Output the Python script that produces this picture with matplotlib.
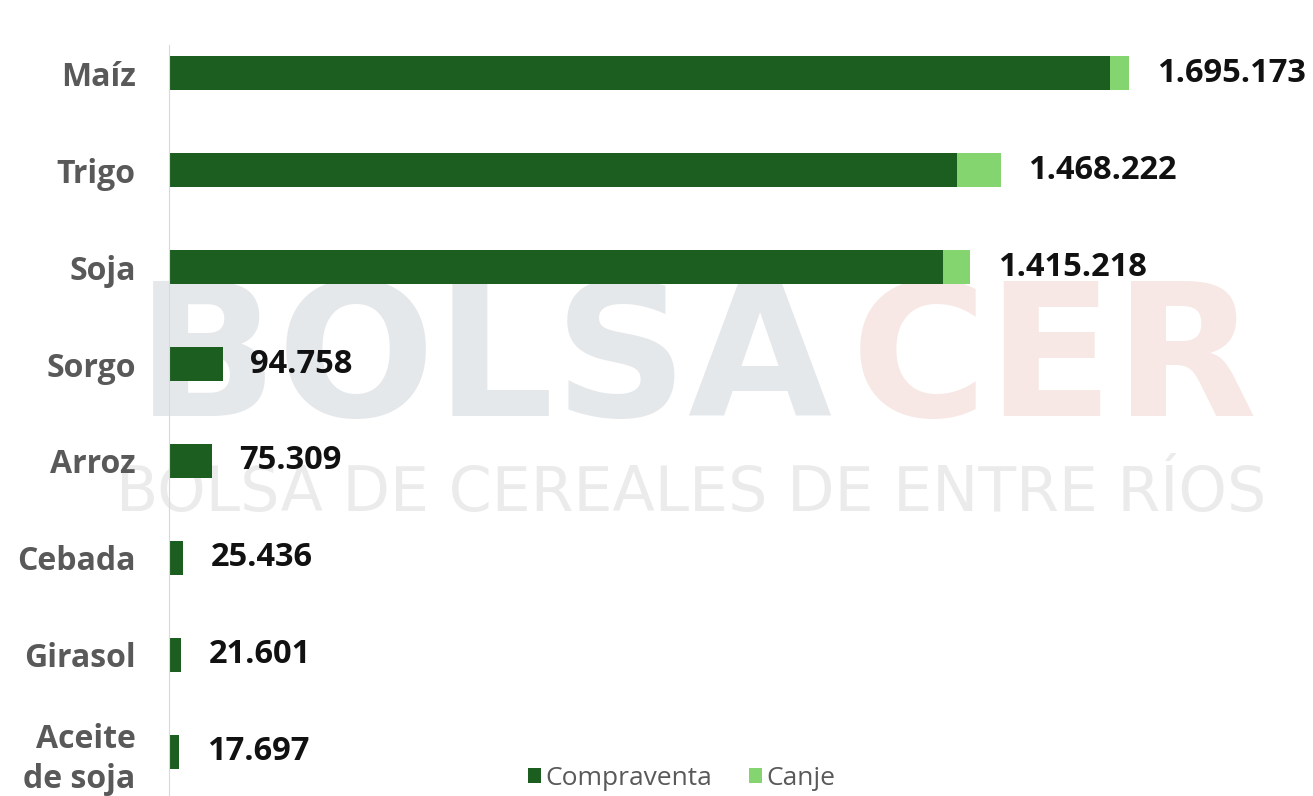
import matplotlib.pyplot as plt
import numpy as np

# datos (toneladas)
granos = ["Maíz", "Trigo", "Soja", "Sorgo", "Arroz", "Cebada", "Girasol", "Aceite\nde soja"]
compraventa = [1661673, 1391522, 1366818, 94758, 75309, 25436, 21601, 17697]
canje = [33500, 76700, 48400, 0, 0, 0, 0, 0]

verde_oscuro = "#1b5e20"
verde_claro = "#84d46f"

plt.rcParams['font.family'] = ['Open Sans', 'DejaVu Sans']

fig = plt.figure(figsize=(13.13, 7.96), dpi=100)
ax = fig.add_axes([169 / 1313, 0, 1 - 169 / 1313, 751 / 796])
ax.patch.set_alpha(0)

# marca de agua
fig.text(484 / 1313, 1 - 416 / 796, "BOLSA", fontsize=134, fontweight="bold",
         family="DejaVu Sans", color="#e5e8ea", ha="center", va="baseline", zorder=-2)
fig.text(1054 / 1313, 1 - 416 / 796, "CER", fontsize=134, fontweight="bold",
         family="DejaVu Sans", color="#f7e8e5", ha="center", va="baseline", zorder=-2)
fig.text(691 / 1313, 1 - 511 / 796, "BOLSA DE CEREALES DE ENTRE RÍOS", fontsize=44.5,
         family="DejaVu Sans", color="#ebebeb", ha="center", va="baseline", zorder=-2)

y = np.arange(len(granos))
ax.barh(y, compraventa, height=0.36, color=verde_oscuro, label="Compraventa")
ax.barh(y, canje, left=compraventa, height=0.36, color=verde_claro, label="Canje")

for i in range(len(granos)):
    total = compraventa[i] + canje[i]
    txt = f"{total:,}".replace(",", ".")
    ax.annotate(txt, (total, i), xytext=(20, 0), textcoords="offset points",
                va="center", ha="left", fontsize=23.5, fontweight="bold", color="#111111")

ax.set_yticks(y)
ax.set_yticklabels(granos, fontsize=23, fontweight="bold", color="#595959", linespacing=1.3)
ax.tick_params(axis="y", length=0, pad=24)
ax.set_xticks([])
ax.set_xlim(0, 2020000)
ax.set_ylim(7.454, -0.289)
for s in ["top", "right", "bottom"]:
    ax.spines[s].set_visible(False)
ax.spines["left"].set_color("#d9d9d9")

fig.legend(loc="center", bbox_to_anchor=(0.519, 0.022), ncol=2, frameon=False,
           fontsize=19, handlelength=0.5, handleheight=0.5, handletextpad=0.15,
           columnspacing=1.4, labelcolor="#595959")

fig.savefig("out.png", dpi=100)
